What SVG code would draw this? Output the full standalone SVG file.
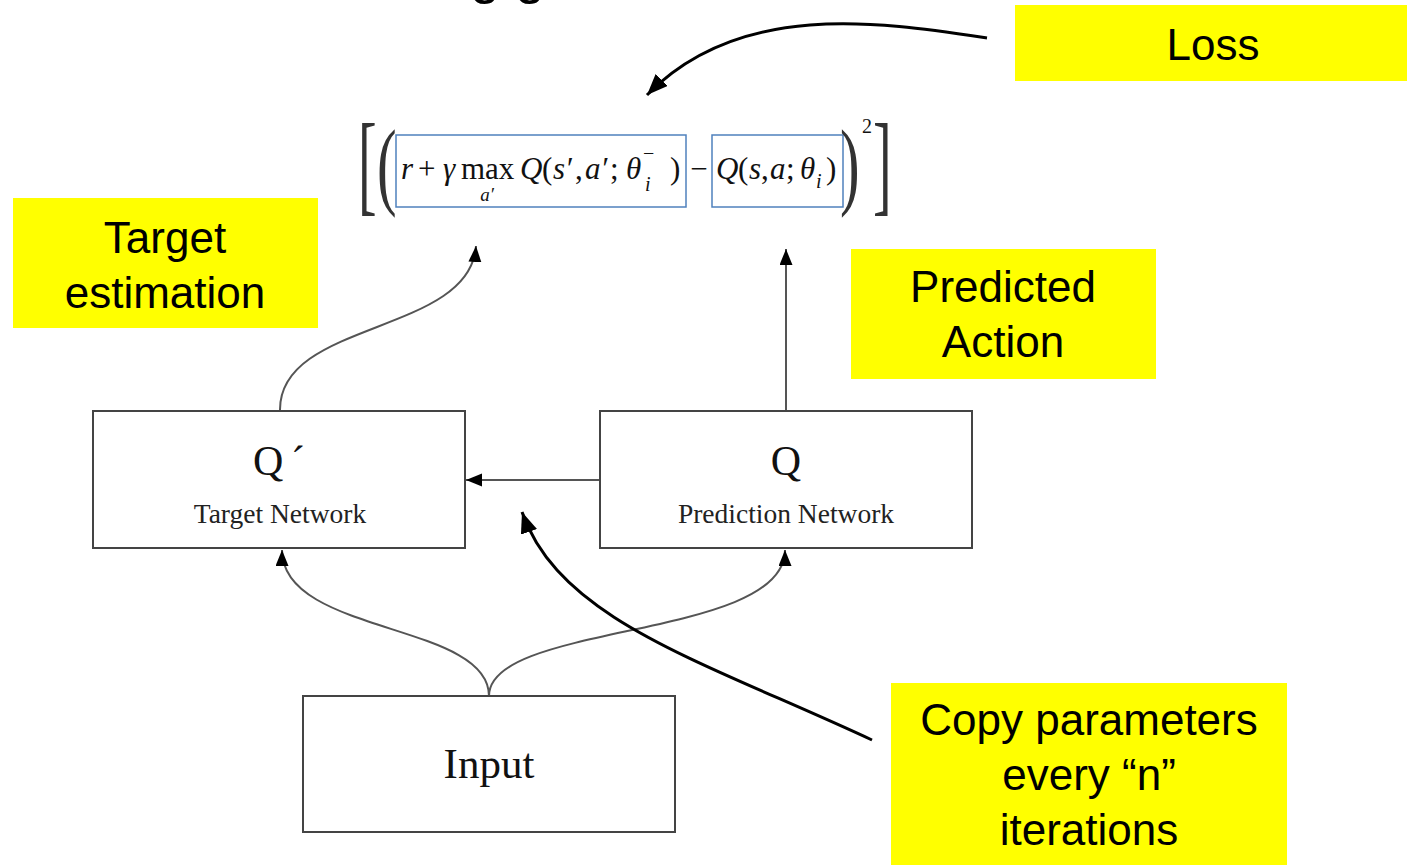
<svg xmlns="http://www.w3.org/2000/svg" width="1407" height="865" viewBox="0 0 1407 865">
<defs>
<marker id="ah" markerUnits="userSpaceOnUse" markerWidth="18" markerHeight="14" refX="16" refY="6.5" orient="auto">
<path d="M0,0 L16,6.5 L0,13 z" fill="#000"/>
</marker>
<marker id="ahb" markerUnits="userSpaceOnUse" markerWidth="24" markerHeight="20" refX="21" refY="8.5" orient="auto">
<path d="M0,0 L21,8.5 L0,17 z" fill="#000"/>
</marker>
</defs>
<style>
.net{fill:#fff;stroke:#444;stroke-width:2}
.note{fill:#ffff00;stroke:none}
.nt{font-family:"Liberation Sans",Arial,sans-serif;font-size:44px;fill:#000;text-anchor:middle}
.big{font-family:"Liberation Serif","Times New Roman",serif;font-size:42px;fill:#111}
.lbl{font-family:"Liberation Serif","Times New Roman",serif;font-size:27.5px;fill:#222;text-anchor:middle}
.conn{fill:none;stroke:#555;stroke-width:2}
.call{fill:none;stroke:#000;stroke-width:3}
.m{font-family:"Liberation Serif","Times New Roman",serif;font-size:31px;fill:#111}
.mi{font-style:italic}
.box{fill:none;stroke:#4f81bd;stroke-width:1.5}
</style>
<rect width="1407" height="865" fill="#fff"/>
<text x="470" y="-7" style="font-family:'Liberation Sans',Arial,sans-serif;font-size:54px;fill:#000">g g</text>

<g id="formula">
<text class="m" transform="translate(358,201) scale(0.5,1)" style="font-size:112px;fill:#333">[</text>
<text class="m" transform="translate(377,197) scale(0.6,1)" style="font-size:98px;fill:#333">(</text>
<rect class="box" x="396" y="135" width="290" height="72"/>
<text class="m mi" x="401" y="179">r</text>
<text class="m" x="418" y="179">+</text>
<text class="m mi" x="443" y="179">γ</text>
<text class="m" x="461" y="179">max</text>
<text class="m mi" x="487" y="201" text-anchor="middle" style="font-size:19px">a′</text>
<text class="m mi" x="520" y="179">Q</text>
<text class="m" x="542" y="179">(</text>
<text class="m mi" x="553" y="179">s′</text>
<text class="m" x="575" y="179">,</text>
<text class="m mi" x="585" y="179">a′</text>
<text class="m" x="610" y="179">;</text>
<text class="m mi" x="626" y="179">θ</text>
<text class="m" x="643" y="160" style="font-size:20px">−</text>
<text class="m mi" x="645" y="191" style="font-size:20px">i</text>
<text class="m" x="670" y="179">)</text>
<text class="m" x="699" y="179" text-anchor="middle">−</text>
<rect class="box" x="712" y="135" width="131" height="72"/>
<text class="m mi" x="716" y="179">Q</text>
<text class="m" x="738" y="179">(</text>
<text class="m mi" x="749" y="179">s</text>
<text class="m" x="761" y="179">,</text>
<text class="m mi" x="770" y="179">a</text>
<text class="m" x="786" y="179">;</text>
<text class="m mi" x="800" y="179">θ</text>
<text class="m mi" x="816" y="188" style="font-size:20px">i</text>
<text class="m" x="826" y="179">)</text>
<text class="m" transform="translate(840,197) scale(0.6,1)" style="font-size:98px;fill:#333">)</text>
<text class="m" x="862" y="133" style="font-size:20px">2</text>
<text class="m" transform="translate(873,201) scale(0.5,1)" style="font-size:112px;fill:#333">]</text>
</g>

<g id="connectors">
<path class="conn" d="M280,411 C278,320 470,335 476,246" marker-end="url(#ah)"/>
<path class="conn" d="M786,411 L786,249" marker-end="url(#ah)"/>
<path class="conn" d="M600,480 L466,480" marker-end="url(#ah)"/>
<path class="conn" d="M489,696 C489,622 282,635 282,550" marker-end="url(#ah)"/>
<path class="conn" d="M489,696 C489,622 785,640 785,550" marker-end="url(#ah)"/>
<path class="call" d="M987,38 C880,22 740,0 647,95" marker-end="url(#ahb)"/>
<path class="call" d="M872,740 C700,660 560,620 522,512" marker-end="url(#ahb)"/>
</g>

<g id="target-network">
<rect class="net" x="93" y="411" width="372" height="137"/>
<text class="big" x="253" y="475">Q<tspan x="291">´</tspan></text>
<text class="lbl" x="280" y="523">Target Network</text>
</g>
<g id="prediction-network">
<rect class="net" x="600" y="411" width="372" height="137"/>
<text class="big" x="786" y="475" text-anchor="middle">Q</text>
<text class="lbl" x="786" y="523">Prediction Network</text>
</g>
<g id="input">
<rect class="net" x="303" y="696" width="372" height="136"/>
<text class="big" x="489" y="778" text-anchor="middle" style="font-size:43px">Input</text>
</g>

<g id="note-loss">
<rect class="note" x="1015" y="5" width="392" height="76"/>
<text class="nt" x="1213" y="60">Loss</text>
</g>
<g id="note-target">
<rect class="note" x="13" y="198" width="305" height="130"/>
<text class="nt" x="165" y="253">Target</text>
<text class="nt" x="165" y="308">estimation</text>
</g>
<g id="note-predicted">
<rect class="note" x="851" y="249" width="305" height="130"/>
<text class="nt" x="1003" y="302">Predicted</text>
<text class="nt" x="1003" y="357">Action</text>
</g>
<g id="note-copy">
<rect class="note" x="891" y="683" width="396" height="182"/>
<text class="nt" x="1089" y="735">Copy parameters</text>
<text class="nt" x="1089" y="790">every “n”</text>
<text class="nt" x="1089" y="845">iterations</text>
</g>
</svg>
